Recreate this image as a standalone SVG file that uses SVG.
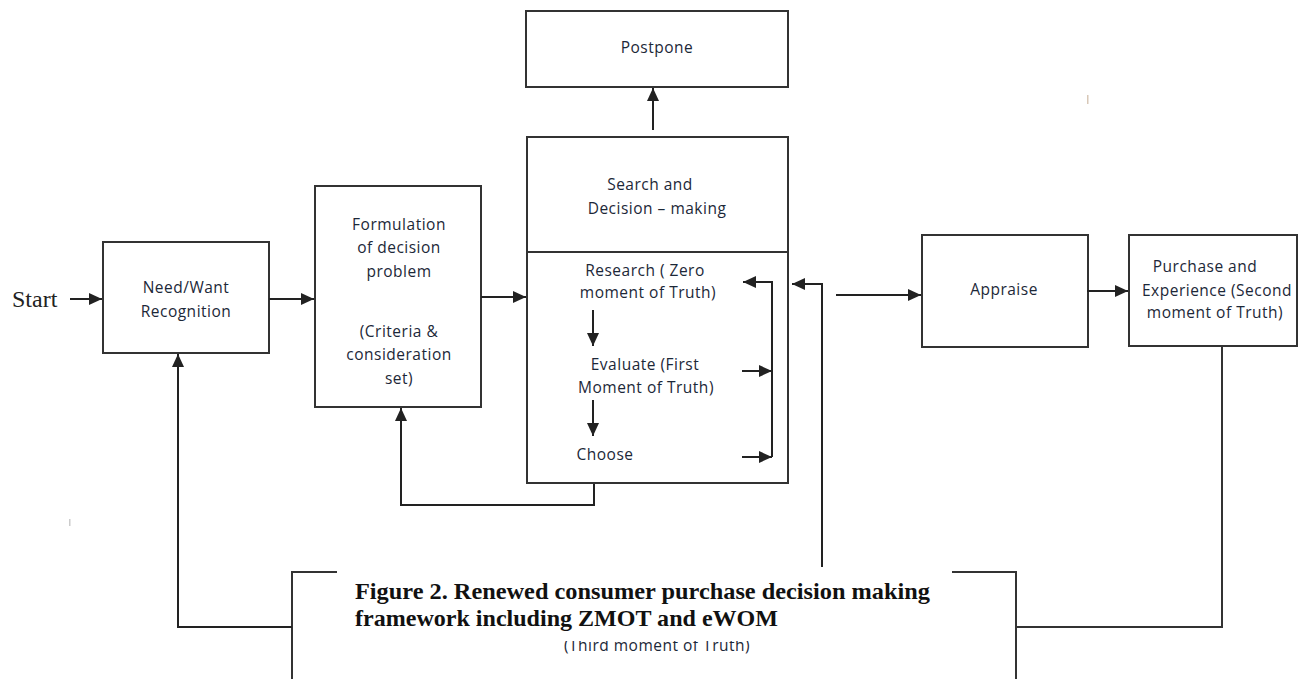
<svg xmlns="http://www.w3.org/2000/svg" width="1303" height="679" viewBox="0 0 1303 679">
  <defs>
    <marker id="ah" viewBox="0 0 13 12" refX="13" refY="6" markerWidth="13" markerHeight="12" markerUnits="userSpaceOnUse" orient="auto">
      <path d="M0,0 L13,6 L0,12 z" fill="#222"/>
    </marker>
    <style>
      .box { fill: #fff; stroke: #333; stroke-width: 2; }
      .ln { fill: none; stroke: #333; stroke-width: 2; }
      .arr { fill: none; stroke: #222; stroke-width: 2; marker-end: url(#ah); }
      .t { font-family: "Open Sans", "Liberation Sans", sans-serif; font-size: 15.5px; letter-spacing: 0.5px; fill: #1c2838; text-anchor: middle; }
      .cap { font-family: "Liberation Serif", "Times New Roman", serif; font-weight: bold; font-size: 24px; fill: #111; }
      .start { font-family: "Liberation Serif", "Times New Roman", serif; font-size: 24px; fill: #222; }
    </style>
  </defs>
  <rect width="1303" height="679" fill="#fff"/>

  <text class="start" x="12" y="307">Start</text>

  <g id="need">
    <rect class="box" x="103" y="242" width="166" height="111"/>
    <text class="t" x="186" y="293">Need/Want</text>
    <text class="t" x="186" y="317">Recognition</text>
  </g>

  <g id="formulation">
    <rect class="box" x="315" y="186" width="166" height="221"/>
    <text class="t" x="399" y="230">Formulation</text>
    <text class="t" x="399" y="253">of decision</text>
    <text class="t" x="399" y="277">problem</text>
    <text class="t" x="399" y="337">(Criteria &amp;</text>
    <text class="t" x="399" y="360">consideration</text>
    <text class="t" x="399" y="384">set)</text>
  </g>

  <g id="postpone">
    <rect class="box" x="526" y="11" width="262" height="76"/>
    <text class="t" x="657" y="53">Postpone</text>
  </g>

  <g id="search">
    <rect class="box" x="527" y="137" width="261" height="346"/>
    <line class="ln" x1="527" y1="252" x2="788" y2="252"/>
    <text class="t" x="650" y="190">Search and</text>
    <text class="t" x="657" y="214">Decision – making</text>
    <text class="t" x="645" y="276">Research ( Zero</text>
    <text class="t" x="648" y="298">moment of Truth)</text>
    <text class="t" x="645" y="370">Evaluate (First</text>
    <text class="t" x="646" y="393">Moment of Truth)</text>
    <text class="t" x="605" y="460">Choose</text>
  </g>

  <g id="appraise">
    <rect class="box" x="922" y="235" width="166" height="112"/>
    <text class="t" x="1004" y="295">Appraise</text>
  </g>

  <g id="purchase">
    <rect class="box" x="1129" y="235" width="168" height="111"/>
    <text class="t" x="1205" y="272">Purchase and</text>
    <text class="t" x="1217" y="296">Experience (Second</text>
    <text class="t" x="1215" y="318">moment of Truth)</text>
  </g>

  <g id="third">
    <polyline class="ln" points="292,679 292,572 1016,572 1016,679"/>
    <text class="t" x="657" y="651">(Third moment of Truth)</text>
  </g>

  <!-- connectors -->
  <g id="connectors">
    <line class="arr" x1="70" y1="299" x2="102" y2="299"/>
    <line class="arr" x1="269" y1="299" x2="314" y2="299"/>
    <line class="arr" x1="481" y1="297" x2="526" y2="297"/>
    <line class="arr" x1="653" y1="130" x2="653" y2="88"/>
    <polyline class="arr" points="594,484 594,505 401,505 401,408"/>
    <!-- steps inside the search panel -->
    <line class="arr" x1="593" y1="310" x2="593" y2="346"/>
    <line class="arr" x1="593" y1="400" x2="593" y2="436"/>
    <polyline class="arr" points="772,457 772,282 743,282"/>
    <line class="arr" x1="742" y1="371" x2="772" y2="371"/>
    <line class="arr" x1="742" y1="457" x2="772" y2="457"/>
    <!-- feedback from the third moment -->
    <polyline class="arr" points="822,572 822,284 792,284"/>
    <line class="arr" x1="836" y1="295" x2="921" y2="295"/>
    <line class="arr" x1="1087" y1="291" x2="1128" y2="291"/>
    <polyline class="ln" points="1222,347 1222,627 1016,627"/>
    <polyline class="arr" points="292,627 178,627 178,354"/>
  </g>

  <!-- caption panel laid over the lower box -->
  <g id="caption">
    <rect x="337" y="567" width="615" height="74" fill="#fff"/>
    <text class="cap" x="355" y="599" textLength="575" lengthAdjust="spacingAndGlyphs">Figure 2. Renewed consumer purchase decision making</text>
    <text class="cap" x="355" y="626" textLength="423" lengthAdjust="spacingAndGlyphs">framework including ZMOT and eWOM</text>
  </g>

  <!-- stray marks -->
  <rect x="1087" y="95" width="1.5" height="9" fill="#d8c8b8"/>
  <rect x="69" y="519" width="1.5" height="7" fill="#ccc"/>
</svg>
